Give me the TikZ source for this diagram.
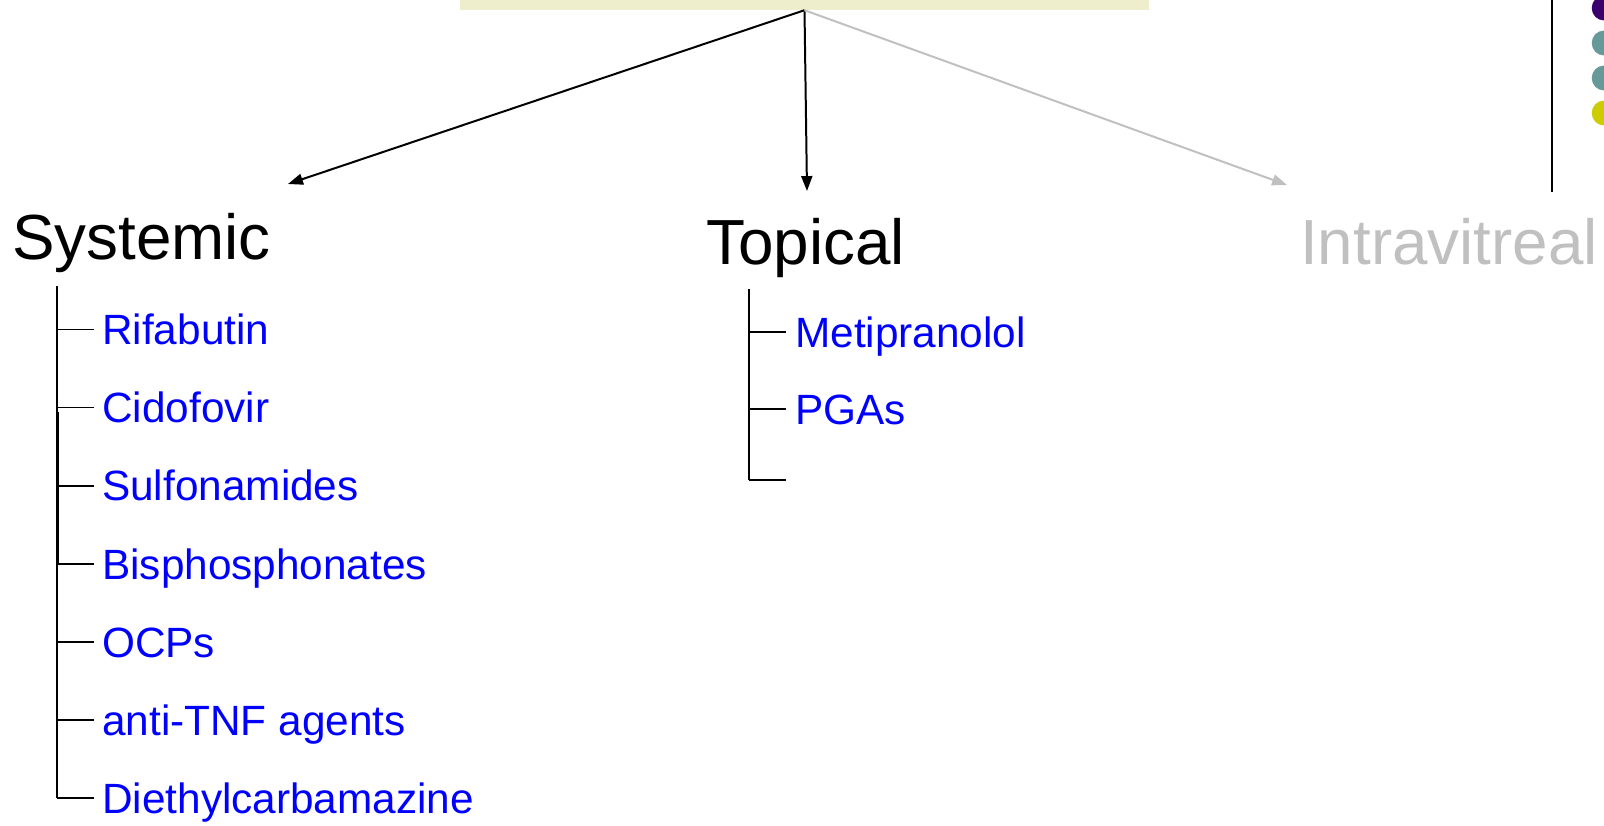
\documentclass[tikz,border=0pt]{standalone}
\usepackage{fontspec}
\setmainfont{Liberation Sans}
\usetikzlibrary{arrows.meta,calc}
\definecolor{barfill}{RGB}{238,238,204}
\definecolor{itemblue}{RGB}{0,0,255}
\definecolor{offgray}{RGB}{192,192,192}
\definecolor{dotpurple}{RGB}{60,0,110}
\definecolor{dotteal}{RGB}{102,153,153}
\definecolor{dotyellow}{RGB}{204,204,0}
\tikzset{
  >={Triangle[length=15pt,width=11pt]},
  titlebar/.style={fill=barfill,draw=none,minimum width=689bp,
    minimum height=40bp,inner sep=0pt},
  route/.style={font=\fontsize{64}{76}\selectfont,anchor=base west,
    inner sep=0pt},
  drug/.style={font=\fontsize{42.5}{50}\selectfont,text=itemblue,anchor=west,
    inner sep=0pt,text height=30.5pt,text depth=0pt},
  arr/.style={->,line width=2pt},
  treeline/.style={line width=1.7pt},
  sdot/.style={circle,inner sep=0pt,minimum size=25bp},
}
\begin{document}
\begin{tikzpicture}[x=1bp,y=-1bp]
  \useasboundingbox (0,0) rectangle (1604,825);
  \node[titlebar] (title) at (804.5,-10) {};
  \node[route] (sys) at (12,259.5) {Systemic};
  \node[route] (top) at (706,264) {Topical};
  \node[route,text=offgray] (ivt) at (1300,264) {Intravitreal};
  \coordinate (sysin) at (288,184);
  \coordinate (topin) at (807,191);
  \coordinate (ivtin) at (1287,185);
  \draw[arr] (title.south) -- (sysin);
  \draw[arr] (title.south) -- (topin);
  \draw[arr,offgray] (title.south) -- (ivtin);
  % systemic list
  \coordinate (sstem) at (57,286);
  \foreach \d [count=\i] in {Rifabutin,Cidofovir,Sulfonamides,
      Bisphosphonates,OCPs,anti-TNF agents,Diethylcarbamazine}
    \node[drug] (s\i) at (102,{251.4+78.1*\i}) {\d};
  \foreach \i in {1,...,7}
    \draw[treeline] (s\i.west -| sstem) -- ([xshift=-8bp]s\i.west);
  \draw[treeline] (sstem) -- (s7.west -| sstem);
  \draw[treeline] ($(s2.west -| sstem)+(1,4)$) -- ($(s4.west -| sstem)+(1,0)$);
  % topical list
  \coordinate (tstem) at (749,289);
  \node[drug] (t1) at (795,332) {Metipranolol};
  \node[drug] (t2) at (795,409) {PGAs};
  \coordinate (t3) at (795,480);
  \foreach \t in {t1,t2,t3}
    \draw[treeline] (\t.west -| tstem) -- ([xshift=-9bp]\t.west);
  \draw[treeline] (tstem) -- (t3 -| tstem);
  % corner decoration
  \draw[line width=2pt] (1551.7,0) -- (1551.7,191.7);
  \foreach \c [count=\i] in {dotpurple,dotteal,dotteal,dotyellow}
    \node[sdot,fill=\c] (d\i) at (1604.2,{8+35*(\i-1)}) {};
\end{tikzpicture}
\end{document}
